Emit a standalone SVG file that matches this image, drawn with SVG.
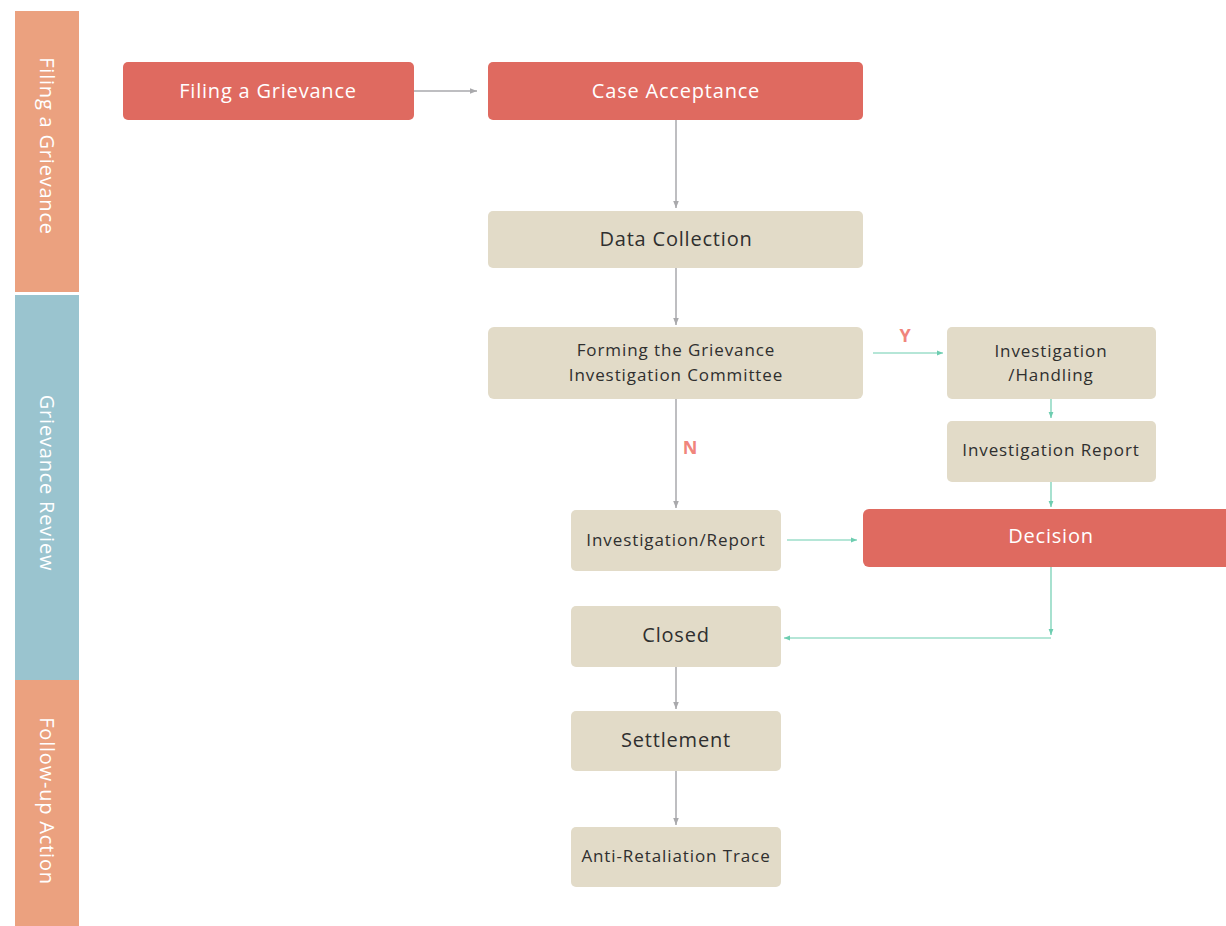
<svg xmlns="http://www.w3.org/2000/svg" width="1226" height="926" viewBox="0 0 1226 926">
  <defs>
    <marker id="arrGray" viewBox="0 0 10 10" refX="10" refY="5" markerWidth="7" markerHeight="7" orient="auto" markerUnits="userSpaceOnUse">
      <path d="M0,1 L10,5 L0,9 Z" fill="#A9A9AC"/>
    </marker>
    <marker id="arrTeal" viewBox="0 0 10 10" refX="10" refY="5" markerWidth="6" markerHeight="6" orient="auto" markerUnits="userSpaceOnUse">
      <path d="M0,1 L10,5 L0,9 Z" fill="#6DCDB0"/>
    </marker>
    <style>
      .lane-label { font-family: "Open Sans", "Liberation Sans", sans-serif; font-size: 20px; letter-spacing: 0.8px; fill: #FFFFFF; }
      .red rect { fill: #DF6A60; }
      .beige rect { fill: #E2DBC8; }
      .red text { font-family: "Open Sans", "Liberation Sans", sans-serif; font-size: 20px; letter-spacing: 0.8px; fill: #FFFFFF; text-anchor: middle; }
      .beige text { font-family: "Open Sans", "Liberation Sans", sans-serif; fill: #2F2F2F; text-anchor: middle; }
      .big { font-size: 20px; letter-spacing: 0.8px; }
      .small { font-size: 17px; letter-spacing: 0.9px; }
      .gray { stroke: #A9A9AC; stroke-width: 1.5; fill: none; marker-end: url(#arrGray); }
      .teal { stroke: #6DCDB0; stroke-width: 1.2; fill: none; marker-end: url(#arrTeal); }
      .yn { font-family: "Open Sans", "Liberation Sans", sans-serif; font-size: 18px; font-weight: bold; fill: #F0857C; text-anchor: middle; }
    </style>
  </defs>

  <rect width="1226" height="926" fill="#FFFFFF"/>

  <!-- swimlane headers -->
  <g id="lanes">
    <rect x="15" y="11" width="64" height="281" fill="#EBA17F"/>
    <rect x="15" y="295" width="64" height="385" fill="#9AC4CF"/>
    <rect x="15" y="680" width="64" height="246" fill="#EBA17F"/>
    <text class="lane-label" transform="translate(40,146) rotate(90)" text-anchor="middle">Filing a Grievance</text>
    <text class="lane-label" transform="translate(40,483) rotate(90)" text-anchor="middle">Grievance Review</text>
    <text class="lane-label" transform="translate(40,801) rotate(90)" text-anchor="middle">Follow-up Action</text>
  </g>

  <!-- connectors -->
  <g id="connectors">
    <path class="gray" d="M414,91 H477"/>
    <path class="gray" d="M676,120 V208"/>
    <path class="gray" d="M676,268 V325"/>
    <path class="gray" d="M676,399 V508"/>
    <path class="gray" d="M676,667 V709"/>
    <path class="gray" d="M676,771 V825"/>
    <path class="teal" d="M873,353 H943"/>
    <path class="teal" d="M1051,399 V418"/>
    <path class="teal" d="M1051,482 V507"/>
    <path class="teal" d="M787,540 H857"/>
    <path class="teal" d="M1051,567 V635"/>
    <path class="teal" d="M1051,638 H784"/>
    <text class="yn" x="905" y="342">Y</text>
    <text class="yn" x="690" y="454">N</text>
  </g>

  <!-- nodes -->
  <g id="filing" class="red">
    <rect x="123" y="62" width="291" height="58" rx="5"/>
    <text x="268" y="98">Filing a Grievance</text>
  </g>
  <g id="acceptance" class="red">
    <rect x="488" y="62" width="375" height="58" rx="5"/>
    <text x="676" y="98">Case Acceptance</text>
  </g>
  <g id="data-collection" class="beige">
    <rect x="488" y="211" width="375" height="57" rx="5"/>
    <text class="big" x="676" y="246">Data Collection</text>
  </g>
  <g id="committee" class="beige">
    <rect x="488" y="327" width="375" height="72" rx="6"/>
    <text class="small" x="676" y="356">Forming the Grievance</text>
    <text class="small" x="676" y="381">Investigation Committee</text>
  </g>
  <g id="handling" class="beige">
    <rect x="947" y="327" width="209" height="72" rx="5"/>
    <text class="small" x="1051" y="357">Investigation</text>
    <text class="small" x="1051" y="381">/Handling</text>
  </g>
  <g id="investigation-report" class="beige">
    <rect x="947" y="421" width="209" height="61" rx="5"/>
    <text class="small" x="1051" y="456">Investigation Report</text>
  </g>
  <g id="investigation-short" class="beige">
    <rect x="571" y="510" width="210" height="61" rx="5"/>
    <text class="small" x="676" y="546">Investigation/Report</text>
  </g>
  <g id="decision" class="red">
    <rect x="863" y="509" width="380" height="58" rx="6"/>
    <text x="1051" y="543">Decision</text>
  </g>
  <g id="closed" class="beige">
    <rect x="571" y="606" width="210" height="61" rx="5"/>
    <text class="big" x="676" y="642">Closed</text>
  </g>
  <g id="settlement" class="beige">
    <rect x="571" y="711" width="210" height="60" rx="5"/>
    <text class="big" x="676" y="747">Settlement</text>
  </g>
  <g id="anti-retaliation" class="beige">
    <rect x="571" y="827" width="210" height="60" rx="5"/>
    <text class="small" x="676" y="862">Anti-Retaliation Trace</text>
  </g>
</svg>
